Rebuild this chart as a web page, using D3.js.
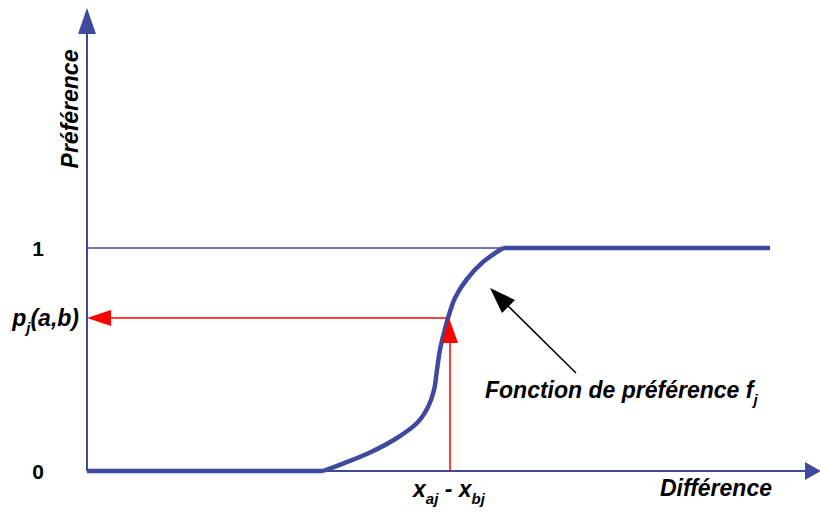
<!DOCTYPE html>
<html><head><meta charset="utf-8">
<script src="https://cdn.jsdelivr.net/npm/d3@7"></script>
<style>body{margin:0;background:#fff}svg{display:block}text{font-family:"Liberation Sans",Arial,sans-serif;font-weight:bold;font-style:italic;fill:#000}</style>
</head><body>
<svg id="c" width="820" height="513"></svg>
<script>
// Data (x: difference in arbitrary units 0..100, y: preference 0..1)
const flatLowX = [0, 34.55];
const curveX = [34.55, 37.48, 41.43, 45.39, 48.32, 49.93, 50.81, 51.24, 51.68, 52.27, 52.86, 53.88, 55.64, 57.98, 60.91];
const curveY = [0, 0.033, 0.083, 0.148, 0.215, 0.287, 0.363, 0.453, 0.543, 0.619, 0.686, 0.776, 0.861, 0.937, 1];
const flatHighX = [60.91, 100];
const yTicks = [0, 1];
const yTickLabels = ["0", "1"];
const xDiff = 53.15;     // x_aj - x_bj
const pValue = 0.686;    // p_j(a,b)

const svg = d3.select("#c");
const x = d3.scaleLinear().domain([0, 100]).range([87, 770]);
const y = d3.scaleLinear().domain([0, 1]).range([471, 248]);
const blue = "#3f4a9f";
const red = "#ff0000";

// axes
svg.append("line").attr("x1", x(0)).attr("x2", 806).attr("y1", y(0)).attr("y2", y(0)).attr("stroke", blue).attr("stroke-width", 2);
svg.append("path").attr("d", `M805,${y(0)-9}L821,${y(0)}L805,${y(0)+9}Z`).attr("fill", blue);
svg.append("line").attr("x1", x(0)).attr("x2", x(0)).attr("y1", y(0)).attr("y2", 33).attr("stroke", blue).attr("stroke-width", 2);
svg.append("path").attr("d", `M${x(0)-9},34L${x(0)},8L${x(0)+9},34Z`).attr("fill", blue);

// level 1 thin line
svg.append("line").attr("x1", x(0)).attr("x2", x(60.91)).attr("y1", y(1)).attr("y2", y(1)).attr("stroke", blue).attr("stroke-width", 1.5);

// red guides
svg.append("line").attr("x1", x(xDiff)).attr("x2", x(xDiff)).attr("y1", y(0)).attr("y2", y(pValue) + 20).attr("stroke", red).attr("stroke-width", 1.5);
svg.append("line").attr("x1", x(xDiff)).attr("x2", x(0) + 20).attr("y1", y(pValue)).attr("y2", y(pValue)).attr("stroke", red).attr("stroke-width", 1.5);

// preference curve: flat low, S-shaped transition, flat high
const straight = d3.line();
const smooth = d3.line().curve(d3.curveCatmullRom.alpha(0.5));
const stroke = p => p.attr("fill", "none").attr("stroke", blue).attr("stroke-width", 4.5).attr("stroke-linejoin", "round");
svg.append("path").attr("d", straight(flatLowX.map(v => [x(v), y(0)]))).call(stroke);
svg.append("path").attr("d", smooth(curveX.map((v, i) => [x(v), y(curveY[i])]))).call(stroke);
svg.append("path").attr("d", straight(flatHighX.map(v => [x(v), y(1)]))).call(stroke);

// red arrowheads (on top of curve)
svg.append("path").attr("d", `M${x(xDiff)-8},${y(pValue)+25}L${x(xDiff)-1},${y(pValue)}L${x(xDiff)+8},${y(pValue)+25}Z`).attr("fill", red);
svg.append("path").attr("d", `M${x(0)+24},${y(pValue)-8}L${x(0)},${y(pValue)}L${x(0)+24},${y(pValue)+8}Z`).attr("fill", red);

// black annotation arrow
svg.append("line").attr("x1", 576).attr("y1", 373).attr("x2", 502).attr("y2", 300).attr("stroke", "#000").attr("stroke-width", 1.5);
svg.append("path").attr("d", "M490,288L515,300L502,313Z").attr("fill", "#000");

// tick labels
svg.selectAll(".tl").data(yTicks).enter().append("text")
  .attr("x", 38).attr("y", d => y(d) + 8).attr("text-anchor", "middle")
  .style("font-style", "normal").attr("font-size", 21).text((d, i) => yTickLabels[i]);

// axis titles
svg.append("text").attr("transform", "translate(78,109) rotate(-90)").attr("text-anchor", "middle").attr("font-size", 23).text("Préférence");
svg.append("text").attr("x", 772).attr("y", 496).attr("text-anchor", "end").attr("font-size", 23).text("Différence");

// p_j(a,b)
const p = svg.append("text").attr("x", 79).attr("y", y(pValue) + 8).attr("text-anchor", "end").attr("font-size", 23);
p.append("tspan").text("p");
p.append("tspan").attr("dy", 7).attr("font-size", 15).text("j");
p.append("tspan").attr("dy", -7).text("(a,b)");

// x_aj - x_bj
const xl = svg.append("text").attr("x", 449).attr("y", 497).attr("text-anchor", "middle").attr("font-size", 23);
xl.append("tspan").text("x");
xl.append("tspan").attr("dy", 7).attr("font-size", 15).text("aj");
xl.append("tspan").attr("dy", -7).text(" - x");
xl.append("tspan").attr("dy", 7).attr("font-size", 15).text("bj");

// function label
const fl = svg.append("text").attr("x", 485).attr("y", 398).attr("font-size", 23);
fl.append("tspan").text("Fonction de préférence f");
fl.append("tspan").attr("dy", 7).attr("font-size", 15).text("j");
</script>
</body></html>
